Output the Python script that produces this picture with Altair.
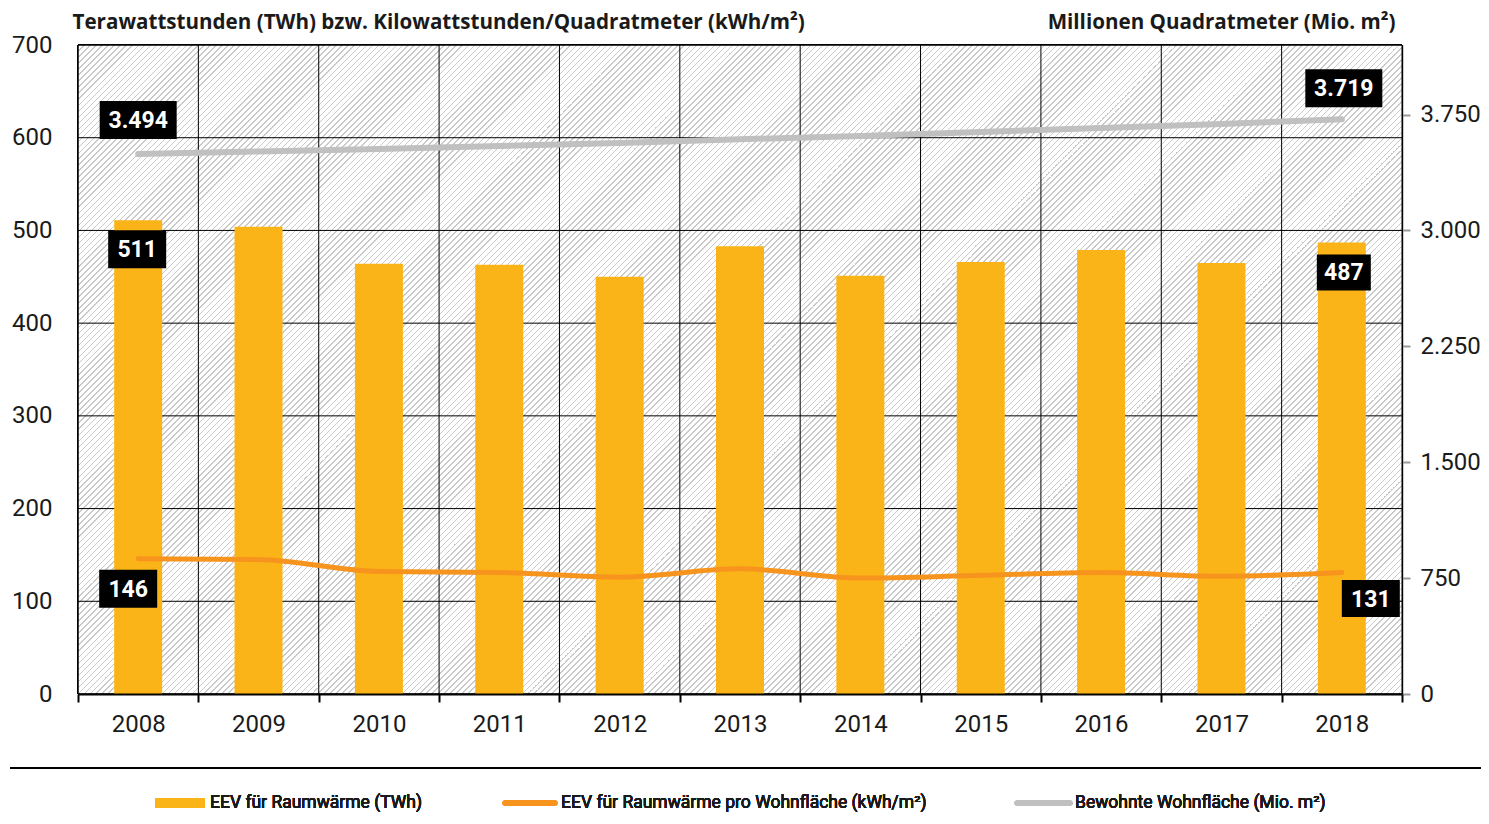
import altair as alt
import pandas as pd

# ---------------- data ----------------
years = [2008, 2009, 2010, 2011, 2012, 2013, 2014, 2015, 2016, 2017, 2018]
eev_twh = [511, 504, 464, 463, 450, 483, 451, 466, 479, 465, 487]
eev_kwh_m2 = [146, 145, 132, 131, 126, 135, 125, 128, 131, 127, 131]
wohnflaeche = [3494, 3511, 3527, 3546, 3566, 3590, 3611, 3637, 3663, 3689, 3719]

left_ticks = [0, 100, 200, 300, 400, 500, 600, 700]
right_ticks = [0, 750, 1500, 2250, 3000, 3750]

title_left = "Terawattstunden (TWh) bzw. Kilowattstunden/Quadratmeter (kWh/m²)"
title_right = "Millionen Quadratmeter (Mio. m²)"
legend_labels = [
    "EEV für Raumwärme (TWh)",
    "EEV für Raumwärme pro Wohnfläche (kWh/m²)",
    "Bewohnte Wohnfläche (Mio. m²)",
]

# ---------------- styling / layout ----------------
W, H = 1324, 649
FONT = "Roboto"
TITLE_FONT = "Open Sans"
C_BAR = "#fbb417"
C_LINE = "#f7941d"
C_AREA = "#c0c0c0"
C_TEXT = "#1a1a1a"

df = pd.DataFrame({
    "Jahr": [str(y) for y in years],
    "twh": eev_twh,
    "kwh": eev_kwh_m2,
    "flaeche": wohnflaeche,
})
df["twh_lbl"] = [str(v) for v in eev_twh]
df["kwh_lbl"] = [str(v) for v in eev_kwh_m2]
df["flaeche_lbl"] = [f"{v:,}".replace(",", ".") for v in wohnflaeche]

grid_df = pd.DataFrame({"v": left_ticks})

# diagonal hatch as a striped linear gradient (decoration only)
P = 6.0
L = W + H
n = int(L / P) + 1
stops = []
for i in range(n):
    s = min(i * P / L, 1.0)
    e = min((i * P + P * 0.32) / L, 1.0)
    nx = min((i + 1) * P / L, 1.0)
    stops += [
        alt.GradientStop(offset=round(s, 6), color="#cacaca"),
        alt.GradientStop(offset=round(e, 6), color="#cacaca"),
        alt.GradientStop(offset=round(e, 6), color="#ffffff"),
        alt.GradientStop(offset=round(nx, 6), color="#ffffff"),
    ]
k = (W + H) / (W * W + H * H)
hatch = alt.LinearGradient(gradient="linear", stops=stops, x1=0, y1=0, x2=k * W, y2=k * H)

x_scale = alt.Scale(paddingInner=0, paddingOuter=0)
x_axis = alt.Axis(
    title=None, labelAngle=0, tickBand="extent", grid=False,
    ticks=True, tickColor="black", tickSize=8, tickWidth=2,
    domainColor="black", domainWidth=2,
    labelFont=FONT, labelFontSize=24, labelColor=C_TEXT, labelPadding=10, zindex=1,
)
X = alt.X("Jahr:O", scale=x_scale, axis=x_axis)

yl_scale = alt.Scale(domain=[0, 700], nice=False, zero=True)
yr_scale = alt.Scale(domain=[0, 4200], nice=False, zero=True)

base = alt.Chart(df)

background = alt.Chart(grid_df).mark_rect(fill=hatch, stroke="black", strokeWidth=1).encode(
    x=alt.value(0), x2=alt.value(W), y=alt.value(0), y2=alt.value(H)
)

hgrid = alt.Chart(grid_df).mark_rule(color="black", strokeWidth=1).encode(
    y=alt.Y("v:Q", scale=yl_scale, axis=None)
)
vgrid = base.mark_rule(color="black", strokeWidth=1).encode(
    x=alt.X("Jahr:O", scale=x_scale, axis=x_axis, bandPosition=0)
)

bars = base.mark_bar(size=48, color=C_BAR).encode(
    x=X,
    y=alt.Y(
        "twh:Q", scale=yl_scale,
        axis=alt.Axis(
            orient="left", values=left_ticks, ticks=False, domain=False, grid=False,
            labelFont=FONT, labelFontSize=24, labelColor=C_TEXT, labelPadding=26,
            title=title_left, titleAngle=0, titleAlign="left", titleBaseline="middle",
            titleX=-6, titleY=-23, titleFont=TITLE_FONT, titleFontSize=20.6,
            titleFontWeight="bold", titleColor=C_TEXT,
        ),
    ),
)

orange = base.mark_line(color=C_LINE, strokeWidth=5, strokeCap="round", interpolate="monotone").encode(
    x=X, y=alt.Y("kwh:Q", scale=yl_scale, axis=None)
)

gray = base.mark_line(color=C_AREA, strokeWidth=6, strokeCap="round").encode(
    x=X,
    y=alt.Y(
        "flaeche:Q", scale=yr_scale,
        axis=alt.Axis(
            orient="right", values=right_ticks, grid=False,
            labelExpr="replace(format(datum.value, ','), ',', '.')",
            tickColor="#999999", tickSize=8, tickWidth=2,
            domainColor="#999999", domainWidth=2,
            labelFont=FONT, labelFontSize=24, labelColor=C_TEXT, labelPadding=10,
            title=title_right, titleAngle=0, titleAlign="right", titleBaseline="middle",
            titleX=-7, titleY=-23, titleFont=TITLE_FONT, titleFontSize=20.6,
            titleFontWeight="bold", titleColor=C_TEXT,
        ),
    ),
)


def box_label(field, year, dx, dy, bw, bh, scale):
    d = base.transform_filter(alt.datum.Jahr == str(year))
    r = bh / bw
    path = f"M-1,-{r:.4f}H1V{r:.4f}H-1Z"
    enc = dict(x=X, y=alt.Y(f"{field}:Q", scale=scale, axis=None))
    box = d.mark_point(
        shape=path, size=bw * bw, filled=True, fill="black", opacity=1,
        strokeWidth=0, xOffset=dx, yOffset=dy,
    ).encode(**enc)
    txt = d.mark_text(
        dx=dx, dy=dy + 1, font=FONT, fontSize=23, fontWeight="bold",
        color="white", align="center", baseline="middle",
    ).encode(text=f"{field}_lbl:N", **enc)
    return [box, txt]


labels = (
    box_label("twh", 2008, -1, 29, 58, 38, yl_scale)
    + box_label("twh", 2018, 2, 30, 54, 36, yl_scale)
    + box_label("kwh", 2008, -10, 30, 58, 38, yl_scale)
    + box_label("kwh", 2018, 29, 26, 58, 37, yl_scale)
    + box_label("flaeche", 2008, 0, -34, 77, 38, yr_scale)
    + box_label("flaeche", 2018, 2, -31, 77, 38, yr_scale)
)

# ---------------- manual legend below the plot ----------------
legend_y = 758
sep = alt.Chart(grid_df).mark_rule(color="black", strokeWidth=1).encode(
    x=alt.value(-68), x2=alt.value(1411), y=alt.value(723)
)
leg_sym_x = [(77, 127), (427, 477), (939, 992)]
leg_txt_x = [132, 483, 997]
leg_colors = [C_BAR, C_LINE, C_AREA]
leg_layers = []
for i, lab in enumerate(legend_labels):
    x0, x1 = leg_sym_x[i]
    sym = alt.Chart(grid_df).mark_rule(
        color=leg_colors[i],
        strokeWidth=10 if i == 0 else 5,
        strokeCap="butt" if i == 0 else "round",
    ).encode(x=alt.value(x0), x2=alt.value(x1), y=alt.value(legend_y))
    txt = alt.Chart(grid_df).mark_text(
        text=lab, align="left", baseline="middle", font=FONT, fontSize=17.5, color=C_TEXT
    ).encode(x=alt.value(leg_txt_x[i]), y=alt.value(legend_y))
    leg_layers += [sym, txt]

chart = alt.layer(
    background, hgrid, vgrid, bars, orange, gray, *labels, sep, *leg_layers
).resolve_scale(y="independent").properties(
    width=W, height=H,
    padding={"left": 70, "top": 37, "right": 79, "bottom": 118},
    autosize=alt.AutoSizeParams(type="none"),
).configure_view(stroke=None)

chart.save("out.html", embed_options={"renderer": "svg", "actions": False})
